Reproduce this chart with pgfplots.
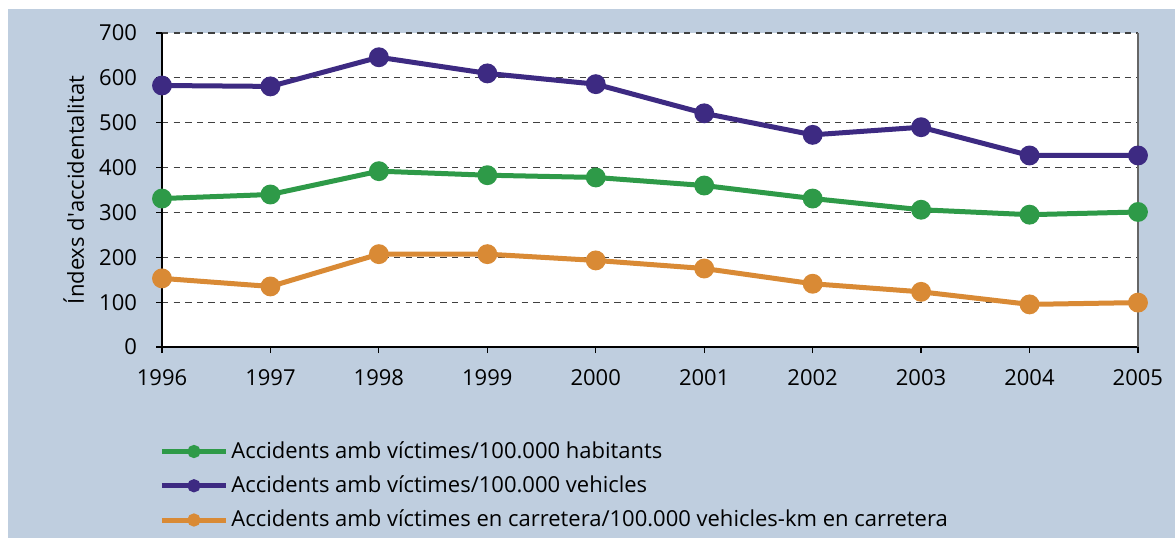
\documentclass[border=0pt]{standalone}
\usepackage{fontspec}
\setmainfont{Open Sans}
\usepackage{pgfplots}
\pgfplotsset{compat=1.18}
\definecolor{bgblue}{RGB}{191,206,223}
\definecolor{habgreen}{RGB}{46,154,72}
\definecolor{vehpurple}{RGB}{61,42,130}
\definecolor{roadorange}{RGB}{217,138,53}

\begin{document}
\begin{tikzpicture}
    \fill[white] (0,0) rectangle (587.5pt,269pt);
    \fill[bgblue] (4pt,0) rectangle (587.5pt,264.5pt);
    \begin{axis}[
        at={(81pt,95.5pt)},
        anchor=south west,
        scale only axis,
        width=488pt,
        height=157pt,
        xmin=1996, xmax=2005,
        ymin=0, ymax=700,
        xtick={1996,...,2005},
        ytick={0,100,...,700},
        axis x line=bottom,
        axis y line=left,
        axis line style={-},
        x axis line style={line width=1.1pt},
        y axis line style={line width=0.6pt},
        tick align=outside,
        major tick length=3pt,
        tick style={black, line width=0.6pt},
        ymajorgrids=true,
        grid style={dash pattern=on 3.2pt off 2.6pt, black!75, line width=0.6pt},
        axis background/.style={fill=white},
        /pgf/number format/assume math mode=true,
        xticklabel style={/pgf/number format/1000 sep={}, yshift=-4.5pt},
        yticklabel style={xshift=-6pt},
        tick label style={font=\fontsize{11}{13}\selectfont},
        ylabel={Índexs d\textquotesingle accidentalitat},
        every axis y label/.style={at={(axis description cs:-0.0905,0.5)}, rotate=90, anchor=center, font=\fontsize{11}{13}\selectfont},
        clip=false,
        legend cell align=left,
        legend image code/.code={
            \draw[mark repeat=2, mark phase=2, #1, mark size=2pt]
            plot coordinates {(0pt,0pt) (16pt,0pt) (32pt,0pt)};
        },
        legend style={
            at={(axis description cs:-0.003,-0.284)},
            anchor=north west,
            draw=none, fill=none,
            inner sep=0pt,
            row sep=2.2pt,
            font=\fontsize{11}{13}\selectfont,
            nodes={inner xsep=1.5pt, inner ysep=2.5pt},
        },
    ]
        \addplot[habgreen, line width=2.5pt, mark=*, mark size=3.7pt] coordinates {
            (1996,331) (1997,340) (1998,392) (1999,383) (2000,378)
            (2001,360) (2002,331) (2003,306) (2004,295) (2005,301)};
        \addplot[vehpurple, line width=2.5pt, mark=*, mark size=3.7pt] coordinates {
            (1996,583) (1997,581) (1998,646) (1999,610) (2000,586)
            (2001,521) (2002,473) (2003,490) (2004,427) (2005,427)};
        \addplot[roadorange, line width=2.5pt, mark=*, mark size=3.7pt] coordinates {
            (1996,153) (1997,135) (1998,207) (1999,207) (2000,193)
            (2001,175) (2002,141) (2003,123) (2004,95) (2005,99)};
        \draw[black!60, line width=0.6pt] (rel axis cs:1,0) -- (rel axis cs:1,1);
        \legend{Accidents amb víctimes/100.000 habitants,
                Accidents amb víctimes/100.000 vehicles,
                Accidents amb víctimes en carretera/100.000 vehicles-km en carretera}
    \end{axis}
\end{tikzpicture}
\end{document}
